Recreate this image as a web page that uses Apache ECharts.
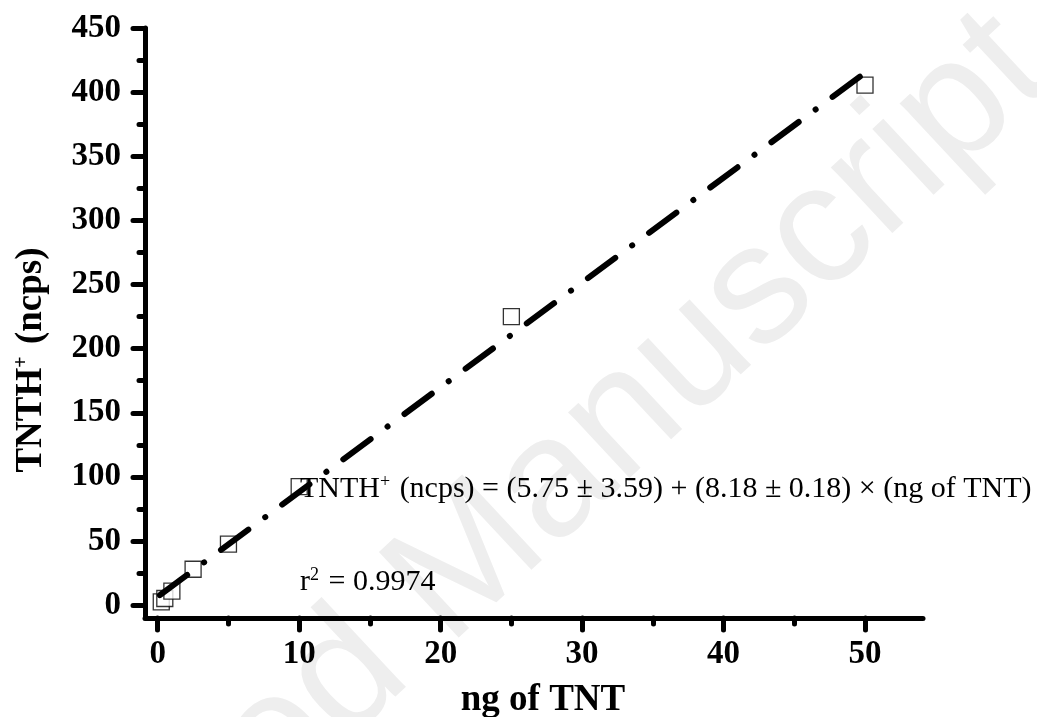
<!DOCTYPE html>
<html>
<head>
<meta charset="utf-8">
<script src="https://cdn.jsdelivr.net/npm/echarts@6/dist/echarts.min.js"></script>
<style>
html,body{margin:0;padding:0;background:#fff}
#chart{width:1037px;height:717px}
</style>
</head>
<body>
<div id="chart"></div>
<script>
// calibration points
const ngTNT = [0.25, 0.5, 1, 2.5, 5, 10, 25, 50];
const signal = [2.6, 5.2, 10.9, 28, 47.6, 92.5, 225, 405.5];
// fitted line ends
const fitX = [0.15, 50];
const fitY = [7.8, 415];
// ticks
const xMajor = [0, 10, 20, 30, 40, 50];
const xMinor = [5, 15, 25, 35, 45];
const yMajor = [0, 50, 100, 150, 200, 250, 300, 350, 400, 450];
const yMinor = [25, 75, 125, 175, 225, 275, 325, 375, 425];

const serif = 'Liberation Serif';
const black = '#000';

let points = [];
for (let i = 0; i < ngTNT.length; i++) points.push([ngTNT[i], signal[i]]);
let fit = [];
for (let i = 0; i < fitX.length; i++) fit.push([fitX[i], fitY[i]]);

const tickStyle = {color: black, width: 5, cap: 'round'};
const supStyle = {fontSize: 18, fontFamily: serif, verticalAlign: 'top', padding: [0, 2, 14, 0]};

let myChart = echarts.init(document.getElementById('chart'));
myChart.setOption({
  animation: false,
  backgroundColor: '#fff',
  grid: {left: 145, right: 114, top: 28, bottom: 99, outerBoundsMode: 'none'},
  graphic: [
    {
      // watermark
      type: 'text', z: -10, x: 444, y: 587, rotation: 43 * Math.PI / 180,
      style: {text: 'Accepted Manuscript', fill: '#eeeeee', font: '170px "Liberation Sans"', align: 'center', verticalAlign: 'middle'}
    },
    {
      type: 'text', z: 10, left: 300, top: 473,
      style: {
        text: 'TNTH{sup|+} (ncps) = (5.75 ± 3.59) + (8.18 ± 0.18) × (ng of TNT)',
        fill: black, font: '30px "Liberation Serif"',
        rich: {sup: supStyle}
      }
    },
    {
      type: 'text', z: 10, left: 300, top: 566,
      style: {
        text: 'r{sup|2} = 0.9974',
        fill: black, font: '30px "Liberation Serif"',
        rich: {sup: supStyle}
      }
    },
    {
      // y axis title
      type: 'text', z: 10, x: 31, y: 360, rotation: Math.PI / 2,
      style: {
        text: 'TNTH{sup|+} (ncps)',
        fill: black, font: 'bold 37px "Liberation Serif"', align: 'center', verticalAlign: 'middle',
        rich: {sup: {fontFamily: serif, fontWeight: 'bold', fontSize: 20, verticalAlign: 'top', padding: [0, 3, 18, 0]}}
      }
    }
  ],
  xAxis: [
    {
      type: 'value', min: -0.9, max: 54.1,
      name: 'ng of TNT', nameLocation: 'middle', nameGap: 64,
      nameTextStyle: {fontFamily: serif, fontWeight: 'bold', fontSize: 37, color: black, padding: [0, 0, 0, 18]},
      axisLine: {show: true, onZero: false, lineStyle: {color: black, width: 5, cap: 'round'}},
      axisTick: {show: true, length: 12, customValues: xMajor, lineStyle: tickStyle},
      axisLabel: {customValues: xMajor, margin: 20, fontFamily: serif, fontWeight: 'bold', fontSize: 33, color: black},
      splitLine: {show: false}
    },
    {
      type: 'value', min: -0.9, max: 54.1, position: 'bottom',
      axisLine: {show: false, onZero: false},
      axisTick: {show: true, length: 6, customValues: xMinor, lineStyle: tickStyle},
      axisLabel: {show: false},
      splitLine: {show: false}
    }
  ],
  yAxis: [
    {
      type: 'value', min: -10, max: 450,
      axisLine: {show: true, onZero: false, lineStyle: {color: black, width: 5, cap: 'round'}},
      axisTick: {show: true, length: 12, customValues: yMajor, lineStyle: tickStyle},
      axisLabel: {customValues: yMajor, margin: 24, fontFamily: serif, fontWeight: 'bold', fontSize: 33, color: black},
      splitLine: {show: false}
    },
    {
      type: 'value', min: -10, max: 450, position: 'left',
      axisLine: {show: false, onZero: false},
      axisTick: {show: true, length: 6, customValues: yMinor, lineStyle: tickStyle},
      axisLabel: {show: false},
      splitLine: {show: false}
    }
  ],
  series: [
    {
      name: 'data',
      type: 'scatter',
      z: 2,
      symbol: 'rect',
      symbolSize: 16,
      itemStyle: {color: '#fff', borderColor: black, borderWidth: 1.3},
      data: points
    },
    {
      name: 'fit',
      type: 'line',
      z: 3,
      showSymbol: false,
      symbol: 'none',
      lineStyle: {color: black, width: 6, type: [34, 21, 0.1, 21], cap: 'round'},
      data: fit
    }
  ]
});
</script>
</body>
</html>
